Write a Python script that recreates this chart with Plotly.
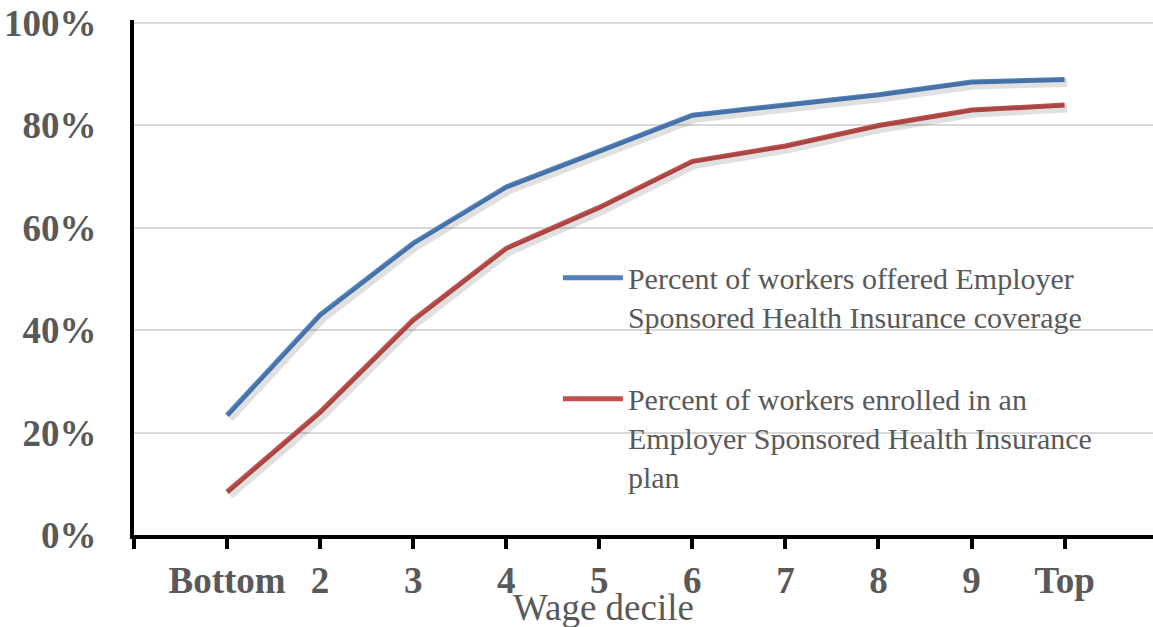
import plotly.graph_objects as go

deciles = ["Bottom", "2", "3", "4", "5", "6", "7", "8", "9", "Top"]
offered = [23.4, 43, 57, 68, 75, 82, 84, 86, 88.5, 89]
enrolled = [8.4, 24, 42, 56, 64, 73, 76, 80, 83, 84]
name_offered = "Percent of workers offered Employer<br>Sponsored Health Insurance coverage"
name_enrolled = "Percent of workers enrolled in an<br>Employer Sponsored Health Insurance<br>plan"

xpos = list(range(len(deciles)))
W, H = 1153, 627
ml, mr, mt, mb = 134, 0, 20, 92
xr = [-1, 9.95]
yr = [0, 100.6]
plot_w = W - ml - mr
plot_h = H - mt - mb
pxx = plot_w / (xr[1] - xr[0])
pxy = plot_h / (yr[1] - yr[0])
dx, dy = 2.5 / pxx, 3 / pxy

fig = go.Figure()
for vals in (offered, enrolled):
    fig.add_trace(go.Scatter(x=xpos, y=vals, mode="lines", xaxis="x2", yaxis="y2",
                             line=dict(color="rgba(0,0,0,0.12)", width=9),
                             showlegend=False, hoverinfo="skip"))
fig.add_trace(go.Scatter(x=xpos, y=offered, mode="lines", name=name_offered, legendgroup="a",
                         line=dict(color="#4f81bd", width=5)))
fig.add_trace(go.Scatter(x=xpos, y=enrolled, mode="lines", name=name_enrolled, legendgroup="b",
                         line=dict(color="#c0504d", width=5)))

tickfont = dict(family="Liberation Serif", size=37, color="#595959")
fig.update_layout(
    width=W, height=H,
    margin=dict(l=ml, r=mr, t=mt, b=mb, autoexpand=False),
    plot_bgcolor="white", paper_bgcolor="white",
    xaxis=dict(range=xr, tickvals=[-1] + xpos, ticktext=[""] + [f"<b>{d}</b>" for d in deciles],
               tickfont=tickfont, ticks="outside", ticklen=10, tickwidth=4, tickcolor="black",
               showline=True, linecolor="black", linewidth=4, showgrid=False, zeroline=False,
               ticklabeloverflow="allow"),
    yaxis=dict(range=yr, tickvals=[0, 20, 40, 60, 80, 100],
               ticktext=[f"<b>{v}%</b>" for v in [0, 20, 40, 60, 80, 100]],
               tickfont=tickfont, ticks="", ticklabelstandoff=26, ticklabeloverflow="allow",
               showline=True, linecolor="black", linewidth=4,
               showgrid=True, gridcolor="#d9d9d9", gridwidth=1.5, zeroline=False),
    xaxis2=dict(range=[xr[0] - dx, xr[1] - dx], overlaying="x", visible=False),
    yaxis2=dict(range=[yr[0] + dy, yr[1] + dy], overlaying="y", visible=False),
    legend=dict(x=0.416, y=0.55, xanchor="left", yanchor="top", bgcolor="rgba(0,0,0,0)",
                font=dict(family="Liberation Serif", size=30, color="#595959"),
                traceorder="grouped", tracegroupgap=40, valign="top", itemwidth=60),
    showlegend=True,
    annotations=[dict(text="Wage decile", xref="paper", yref="paper",
                      x=(603 - ml) / plot_w, y=-(607 - (mt + plot_h)) / plot_h,
                      xanchor="center", yanchor="middle", showarrow=False,
                      font=dict(family="Liberation Serif", size=37, color="#595959"))],
)
fig.write_html("out.html", config={"displayModeBar": False},
               post_script="document.body.style.margin='0';document.body.style.overflow='hidden';")
